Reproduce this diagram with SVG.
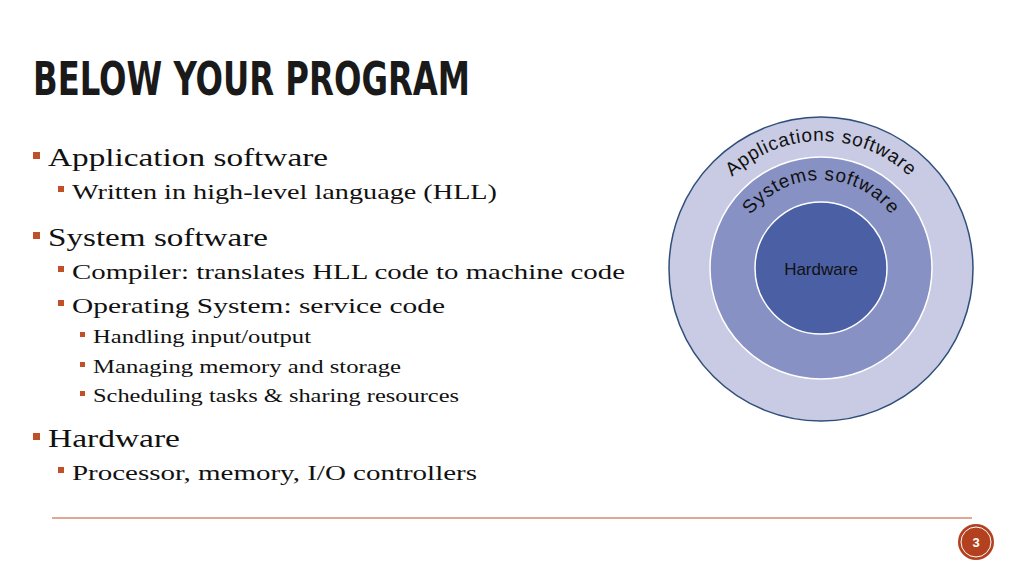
<svg xmlns="http://www.w3.org/2000/svg" width="1024" height="576" viewBox="0 0 1024 576">
<style>
.t{font-family:"Liberation Serif","DejaVu Serif",serif;fill:#111}
.l1{font-size:26px}.l2{font-size:22px}.l3{font-size:19px}
.b{fill:#c0502a}
.c{font-family:"Liberation Sans",Arial,sans-serif;fill:#111}
</style>
<defs>
<path id="a1" d="M 693 269 A 128 128 0 0 1 949 269"/>
<path id="a2" d="M 733 268 A 88 88 0 0 1 909 268"/>
</defs>
<rect width="1024" height="576" fill="#fff"/>
<text x="33" y="95" font-family="DejaVu Sans Condensed,sans-serif" font-weight="bold" font-size="46" textLength="437" lengthAdjust="spacingAndGlyphs" fill="#1a1a1a">BELOW YOUR PROGRAM</text>
<g id="bullets">
<rect class="b" x="33" y="152" width="7" height="7"/>
<text class="t l1" x="48" y="166" textLength="280" lengthAdjust="spacingAndGlyphs">Application software</text>
<rect class="b" x="58" y="186" width="6" height="6"/>
<text class="t l2" x="72" y="199" textLength="425" lengthAdjust="spacingAndGlyphs">Written in high-level language (HLL)</text>
<rect class="b" x="33" y="232" width="7" height="7"/>
<text class="t l1" x="48" y="246" textLength="220" lengthAdjust="spacingAndGlyphs">System software</text>
<rect class="b" x="58" y="266" width="6" height="6"/>
<text class="t l2" x="72" y="279" textLength="553" lengthAdjust="spacingAndGlyphs">Compiler: translates HLL code to machine code</text>
<rect class="b" x="58" y="300" width="6" height="6"/>
<text class="t l2" x="72" y="313" textLength="373" lengthAdjust="spacingAndGlyphs">Operating System: service code</text>
<rect class="b" x="80" y="332" width="5" height="5"/>
<text class="t l3" x="93" y="343" textLength="218" lengthAdjust="spacingAndGlyphs">Handling input/output</text>
<rect class="b" x="80" y="362" width="5" height="5"/>
<text class="t l3" x="93" y="373" textLength="308" lengthAdjust="spacingAndGlyphs">Managing memory and storage</text>
<rect class="b" x="80" y="391" width="5" height="5"/>
<text class="t l3" x="93" y="402" textLength="366" lengthAdjust="spacingAndGlyphs">Scheduling tasks &amp; sharing resources</text>
<rect class="b" x="33" y="433" width="7" height="7"/>
<text class="t l1" x="48" y="447" textLength="132" lengthAdjust="spacingAndGlyphs">Hardware</text>
<rect class="b" x="58" y="467" width="6" height="6"/>
<text class="t l2" x="72" y="480" textLength="405" lengthAdjust="spacingAndGlyphs">Processor, memory, I/O controllers</text>
</g>
<g id="outer"><circle cx="821" cy="269" r="152" fill="#c8cbe3" stroke="#2f4f7a" stroke-width="1.5"/>
<text class="c" font-size="19" letter-spacing="0.8"><textPath href="#a1" startOffset="50%" text-anchor="middle">Applications software</textPath></text></g>
<g id="middle"><circle cx="821" cy="268" r="111" fill="#8791c4" stroke="#fff" stroke-width="1.5"/>
<text class="c" font-size="19" letter-spacing="0.8"><textPath href="#a2" startOffset="50%" text-anchor="middle">Systems software</textPath></text></g>
<g id="inner"><circle cx="821" cy="268" r="66" fill="#4a5fa4" stroke="#fff" stroke-width="1.5"/>
<text class="c" x="821" y="275" font-size="17" text-anchor="middle">Hardware</text></g>
<line x1="52" y1="518" x2="972" y2="518" stroke="#c0502a" stroke-width="1.2"/>
<g id="page"><circle cx="976" cy="542" r="18" fill="#b3411f"/><circle cx="976" cy="542" r="15" fill="none" stroke="#fff" stroke-width="1"/>
<text x="976" y="547" font-family="Liberation Sans,sans-serif" font-weight="bold" font-size="13" fill="#fff" text-anchor="middle">3</text></g>
</svg>
